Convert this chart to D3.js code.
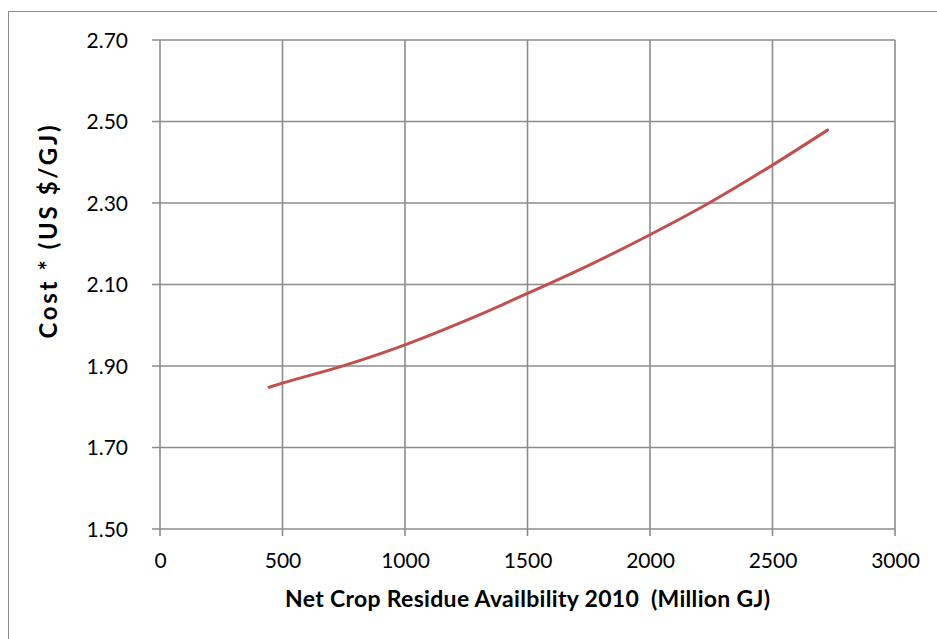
<!DOCTYPE html>
<html>
<head>
<meta charset="utf-8">
<script src="https://cdn.jsdelivr.net/npm/d3@7"></script>
<style>
  html, body { margin: 0; padding: 0; background: #fff; }
  svg { display: block; }
  text { font-family: Lato, "Open Sans", sans-serif; fill: #000; }
</style>
</head>
<body>
<svg id="chart" width="937" height="639"></svg>
<script>
// Data
const availability = [445, 500, 750, 1000, 1250, 1500, 1750, 2000, 2250, 2500, 2725];
const cost = [1.848, 1.858, 1.901, 1.952, 2.012, 2.078, 2.147, 2.222, 2.303, 2.393, 2.479];
const xTicks = [0, 500, 1000, 1500, 2000, 2500, 3000];
const yTicks = [1.50, 1.70, 1.90, 2.10, 2.30, 2.50, 2.70];
const xTitle = "Net Crop Residue Availbility 2010  (Million GJ)";
const yTitle = "Cost * (US $/GJ)";

const svg = d3.select("#chart");
const W = 937, H = 639;
const plot = { left: 160, right: 895, top: 40, bottom: 529 };
const gridColor = "#8c8c8c";

// outer chart border
svg.append("rect")
  .attr("x", 8.5).attr("y", 11.5)
  .attr("width", W + 10).attr("height", H + 10)
  .attr("fill", "none").attr("stroke", "#8c8c8c").attr("stroke-width", 1);

const x = d3.scaleLinear().domain([0, 3000]).range([plot.left, plot.right]);
const y = d3.scaleLinear().domain([1.5, 2.7]).range([plot.bottom, plot.top]);

// gridlines
const grid = svg.append("g");
grid.selectAll("line.v").data(xTicks).join("line")
  .attr("x1", d => x(d)).attr("x2", d => x(d))
  .attr("y1", plot.top).attr("y2", plot.bottom + 7)
  .attr("stroke", gridColor).attr("stroke-width", 1.6);
grid.selectAll("line.h").data(yTicks).join("line")
  .attr("x1", plot.left - 8).attr("x2", plot.right)
  .attr("y1", d => y(d)).attr("y2", d => y(d))
  .attr("stroke", gridColor).attr("stroke-width", 1.6);

// axes with d3 axis generators (labels only; lines drawn above)
const xAxis = svg.append("g")
  .attr("transform", `translate(0,${plot.bottom})`)
  .call(d3.axisBottom(x).tickValues(xTicks).tickFormat(d3.format("d")).tickSize(0).tickPadding(0));
xAxis.select(".domain").remove();
xAxis.selectAll("text")
  .attr("y", 39).attr("dy", 0)
  .style("font-size", "21px").style("font-family", "Lato, sans-serif").attr("fill", "#000");

const yAxis = svg.append("g")
  .attr("transform", `translate(${plot.left},0)`)
  .call(d3.axisLeft(y).tickValues(yTicks).tickFormat(d3.format(".2f")).tickSize(0).tickPadding(0));
yAxis.select(".domain").remove();
yAxis.selectAll("text")
  .attr("x", -32).attr("dy", "0.35em")
  .style("font-size", "21px").style("font-family", "Lato, sans-serif").attr("fill", "#000");

// the curve
const data = availability.map((a, i) => ({ a, c: cost[i] }));
svg.append("path")
  .datum(data)
  .attr("fill", "none")
  .attr("stroke", "#c0504d")
  .attr("stroke-width", 3)
  .attr("stroke-linecap", "round")
  .attr("d", d3.line().x(d => x(d.a)).y(d => y(d.c)).curve(d3.curveMonotoneX));

// axis titles
svg.append("text")
  .attr("x", (plot.left + plot.right) / 2).attr("y", 607)
  .attr("text-anchor", "middle")
  .attr("xml:space", "preserve")
  .style("white-space", "pre")
  .attr("textLength", 485).attr("lengthAdjust", "spacing")
  .style("font-size", "23px").style("font-weight", "bold")
  .text(xTitle);

svg.append("text")
  .attr("transform", `translate(57,232) rotate(-90)`)
  .attr("text-anchor", "middle")
  .attr("textLength", 213).attr("lengthAdjust", "spacing")
  .style("font-size", "24px").style("font-weight", "bold")
  .text(yTitle);
</script>
</body>
</html>
